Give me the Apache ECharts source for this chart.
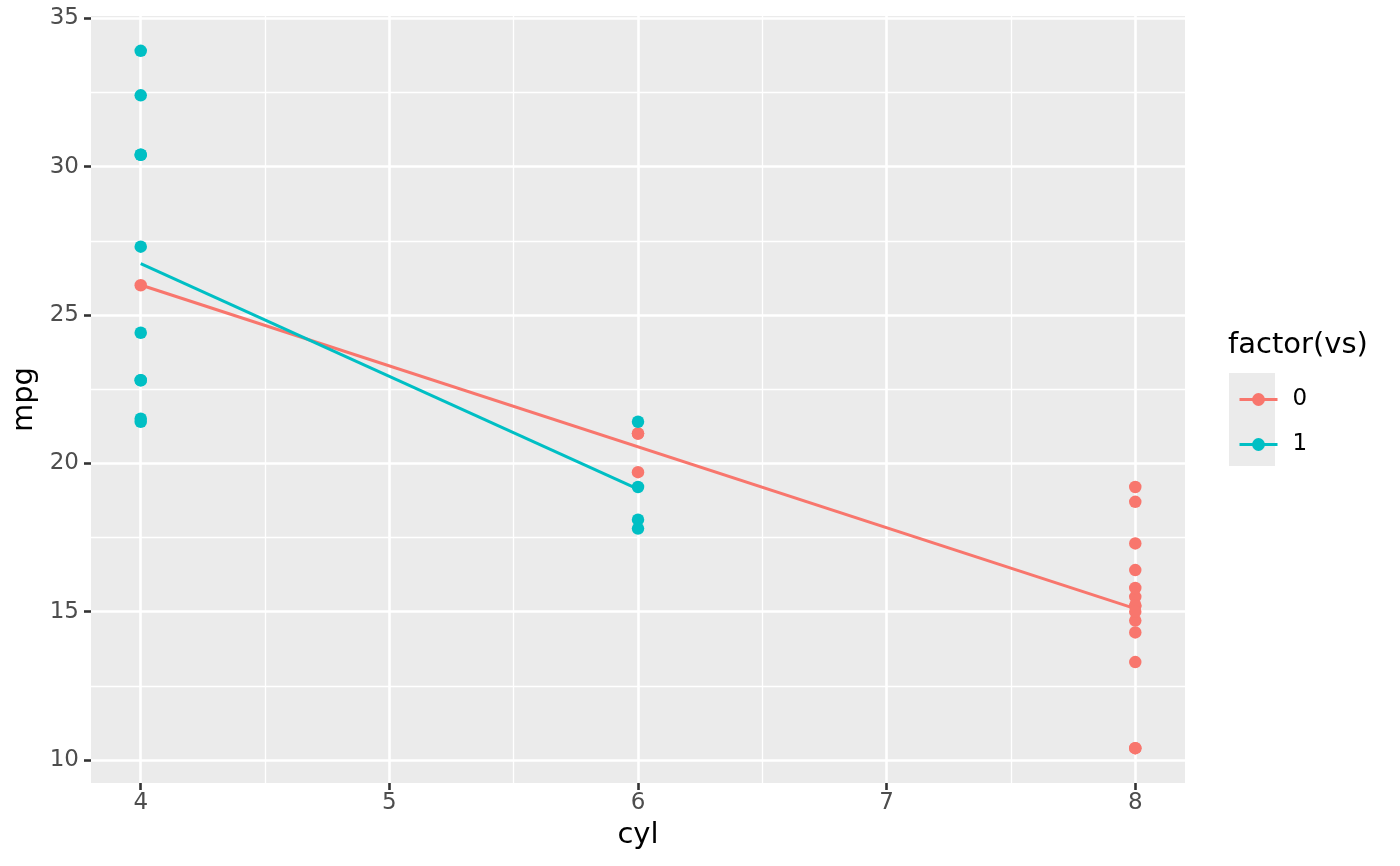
<!DOCTYPE html>
<html>
<head>
<meta charset="utf-8">
<script src="https://cdn.jsdelivr.net/npm/echarts@6/dist/echarts.min.js"></script>
<style>
  html, body { margin: 0; padding: 0; background: #fff; }
  #chart { width: 1400px; height: 866px; }
</style>
</head>
<body>
<div id="chart"></div>
<script>
// mtcars: cyl vs mpg, split by vs
const cyl0 = [4, 6, 6, 6, 8, 8, 8, 8, 8, 8, 8, 8, 8, 8, 8, 8, 8, 8]
const mpg0 = [26.0, 21.0, 21.0, 19.7, 18.7, 14.3, 16.4, 17.3, 15.2, 10.4, 10.4, 14.7, 15.5, 15.2, 13.3, 19.2, 15.8, 15.0]
const cyl1 = [4, 4, 4, 4, 4, 4, 4, 4, 4, 4, 6, 6, 6, 6]
const mpg1 = [22.8, 24.4, 22.8, 32.4, 30.4, 33.9, 21.5, 27.3, 30.4, 21.4, 21.4, 18.1, 19.2, 17.8]

// lm fit lines
const fitX0 = [4, 8]
const fitY0 = [26.01, 15.10]
const fitX1 = [4, 6]
const fitY1 = [26.73, 19.13]

const xTicks = [4, 5, 6, 7, 8]
const xMinor = [4.5, 5.5, 6.5, 7.5]
const yTicks = [10, 15, 20, 25, 30, 35]
const yMinor = [12.5, 17.5, 22.5, 27.5, 32.5]

const col0 = '#F8766D'
const col1 = '#00BFC4'
const font = 'DejaVu Sans'

const zip = (a, b) => a.map((v, i) => [v, b[i]])

const gridLines = [
  ...xMinor.map(v => ({ xAxis: v, lineStyle: { width: 1.3 } })),
  ...yMinor.map(v => ({ yAxis: v, lineStyle: { width: 1.3 } })),
  ...xTicks.map(v => ({ xAxis: v, lineStyle: { width: 2.6 } })),
  ...yTicks.map(v => ({ yAxis: v, lineStyle: { width: 2.6 } })),
]

const chart = echarts.init(document.getElementById('chart'))

chart.setOption({
  animation: false,
  textStyle: { fontFamily: font },
  grid: {
    left: 91, right: 215, top: 16, bottom: 83,
    show: true, backgroundColor: '#EBEBEB', borderWidth: 0,
  },
  title: {
    text: 'factor(vs)',
    left: 1223, top: 326,
    textStyle: { fontFamily: font, fontSize: 29, fontWeight: 'normal', color: '#000' },
  },
  graphic: [{
    type: 'rect', z: 0,
    shape: { x: 1229, y: 373, width: 46, height: 93 },
    style: { fill: '#EBEBEB' },
  }],
  legend: {
    data: ['0', '1'],
    orient: 'vertical',
    left: 1233, top: 383,
    itemWidth: 38, itemHeight: 16, itemGap: 22,
    lineStyle: { width: 3 },
    textStyle: { fontFamily: font, fontSize: 23, color: '#000', padding: [0, 0, 0, 10] },
  },
  xAxis: {
    type: 'value', min: 3.8, max: 8.2,
    name: 'cyl', nameLocation: 'middle', nameGap: 38,
    nameTextStyle: { fontFamily: font, fontSize: 29, color: '#000' },
    axisLine: { show: false },
    axisTick: { show: true, length: 7, lineStyle: { color: '#333333', width: 2.6 }, customValues: xTicks },
    axisLabel: { fontSize: 23, color: '#4D4D4D', margin: 9, customValues: xTicks },
    splitLine: { show: false },
  },
  yAxis: {
    type: 'value', min: 9.225, max: 35.075,
    name: 'mpg', nameLocation: 'middle', nameGap: 44,
    nameTextStyle: { fontFamily: font, fontSize: 29, color: '#000' },
    axisLine: { show: false },
    axisTick: { show: true, length: 7, lineStyle: { color: '#333333', width: 2.6 }, customValues: yTicks },
    axisLabel: { fontSize: 23, color: '#4D4D4D', margin: 12, customValues: yTicks },
    splitLine: { show: false },
  },
  series: [
    {
      name: '0', type: 'line', data: zip(fitX0, fitY0), z: 3,
      symbol: 'circle', symbolSize: 12, showSymbol: false,
      itemStyle: { color: col0 }, lineStyle: { color: col0, width: 3 },
    },
    {
      name: '1', type: 'line', data: zip(fitX1, fitY1), z: 3,
      symbol: 'circle', symbolSize: 12, showSymbol: false,
      itemStyle: { color: col1 }, lineStyle: { color: col1, width: 3 },
    },
    {
      name: '0', type: 'scatter', data: zip(cyl0, mpg0), z: 4,
      symbolSize: 12.5, itemStyle: { color: col0, opacity: 1 },
    },
    {
      name: '1', type: 'scatter', data: zip(cyl1, mpg1), z: 4,
      symbolSize: 12.5, itemStyle: { color: col1, opacity: 1 },
    },
    {
      type: 'line', data: [], z: 1, silent: true,
      markLine: {
        silent: true, z: 1, symbol: ['none', 'none'], animation: false,
        label: { show: false },
        emphasis: { disabled: true },
        lineStyle: { color: '#FFFFFF', type: 'solid' },
        data: gridLines,
      },
    },
  ],
})
</script>
</body>
</html>
